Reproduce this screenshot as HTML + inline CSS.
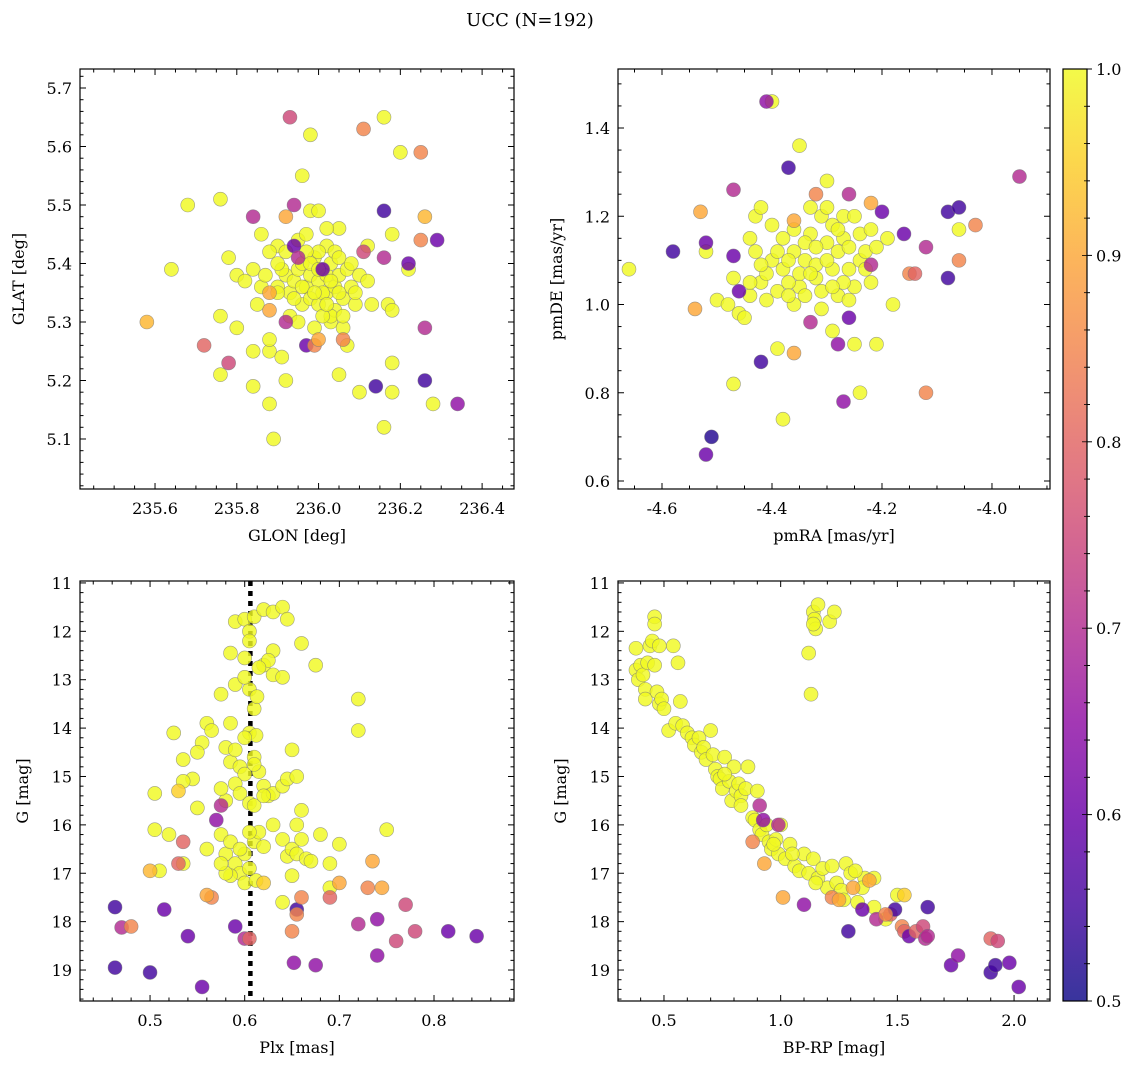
<!DOCTYPE html>
<html><head><meta charset="utf-8">
<style>
html,body{margin:0;padding:0;background:#fff;}
svg{display:block;font-family:"DejaVu Serif","Liberation Serif",serif;}
</style></head>
<body>
<svg id="fig" width="1136" height="1068" viewBox="0 0 1136 1068" xmlns="http://www.w3.org/2000/svg">
<text x="530" y="26" text-anchor="middle" font-size="18">UCC (N=192)</text>
</svg>
<script>
// ---- Panel 1: GLON / GLAT ----
const glonLow=[235.58,235.72,235.78,235.84,235.88,235.88,235.92,235.92,235.93,235.94,235.94,235.95,235.97,235.99,236.01,236.0,236.06,236.11,236.11,236.14,236.16,236.16,236.22,236.25,236.25,236.26,236.26,236.26,236.29,236.34];
const glatLow=[5.30,5.26,5.23,5.48,5.35,5.32,5.30,5.48,5.65,5.50,5.43,5.41,5.26,5.26,5.39,5.27,5.27,5.42,5.63,5.19,5.49,5.41,5.40,5.59,5.44,5.48,5.29,5.20,5.44,5.16];
const probLow1=[0.92,0.8,0.75,0.7,0.9,0.9,0.7,0.9,0.75,0.7,0.6,0.7,0.6,0.85,0.6,0.9,0.85,0.75,0.85,0.55,0.55,0.7,0.6,0.85,0.85,0.92,0.7,0.55,0.6,0.65];
const glonHigh=[235.64,235.68,235.76,235.76,235.76,235.78,235.80,235.80,235.82,235.84,235.84,235.84,235.86,235.86,235.88,235.88,235.88,235.89,235.90,235.90,235.91,235.92,235.96,235.98,235.98,236.0,236.02,236.02,236.03,236.05,236.05,236.06,236.07,236.08,236.09,236.10,236.12,236.13,236.16,236.16,236.17,236.18,236.18,236.18,236.18,236.20,236.22,236.28,
235.92,235.93,235.94,235.95,235.96,235.96,235.97,235.98,235.98,235.99,236.0,236.0,236.01,236.02,236.03,236.04,236.04,236.05,236.06,236.07,235.95,235.97,236.0,236.02,235.93,235.95,236.03,236.06,235.91,235.90,236.08,236.10,235.97,235.99,236.01,236.04,235.88,235.87,236.09,236.05,235.96,235.98,236.0,235.94,236.02,235.92,236.05,235.99,236.03,235.9,236.12,235.85];
const glatHigh=[5.39,5.50,5.51,5.31,5.21,5.41,5.29,5.38,5.37,5.39,5.25,5.19,5.36,5.45,5.16,5.25,5.27,5.10,5.36,5.43,5.24,5.20,5.55,5.62,5.49,5.49,5.43,5.35,5.30,5.21,5.46,5.29,5.26,5.36,5.33,5.18,5.43,5.33,5.12,5.65,5.33,5.45,5.23,5.32,5.18,5.59,5.39,5.16,
5.38,5.35,5.37,5.39,5.33,5.40,5.36,5.38,5.34,5.41,5.37,5.33,5.35,5.38,5.40,5.36,5.32,5.38,5.34,5.39,5.44,5.45,5.42,5.46,5.31,5.30,5.31,5.31,5.39,5.40,5.40,5.38,5.42,5.29,5.31,5.42,5.42,5.38,5.35,5.35,5.36,5.40,5.39,5.34,5.33,5.42,5.41,5.35,5.37,5.35,5.37,5.33];

// ---- Panel 2: pmRA / pmDE ----
const pmraLow=[-4.58,-4.54,-4.53,-4.52,-4.51,-4.52,-4.47,-4.47,-4.46,-4.42,-4.41,-4.37,-4.36,-4.36,-4.33,-4.32,-4.28,-4.27,-4.26,-4.26,-4.22,-4.22,-4.20,-4.16,-4.15,-4.14,-4.12,-4.12,-4.08,-4.08,-4.06,-4.06,-4.03,-3.95];
const pmdeLow=[1.12,0.99,1.21,1.14,0.70,0.66,1.26,1.11,1.03,0.87,1.46,1.31,0.89,1.19,0.96,1.25,0.91,0.78,1.25,0.97,1.23,1.09,1.21,1.16,1.07,1.07,1.13,0.80,1.21,1.06,1.22,1.10,1.18,1.29];
const probLow2=[0.55,0.9,0.9,0.6,0.52,0.6,0.7,0.6,0.6,0.55,0.65,0.55,0.9,0.9,0.7,0.85,0.65,0.65,0.7,0.6,0.9,0.7,0.6,0.6,0.85,0.8,0.7,0.85,0.55,0.55,0.55,0.85,0.85,0.7];
const pmraHigh=[-4.66,-4.52,-4.50,-4.48,-4.47,-4.47,-4.46,-4.45,-4.44,-4.44,-4.43,-4.42,-4.42,-4.40,-4.39,-4.38,-4.35,-4.30,-4.29,-4.25,-4.24,-4.21,-4.19,-4.18,-4.06,
-4.40,-4.38,-4.36,-4.34,-4.32,-4.30,-4.28,-4.26,-4.24,-4.22,-4.35,-4.33,-4.31,-4.29,-4.27,-4.37,-4.39,-4.41,-4.43,-4.36,-4.34,-4.31,-4.28,-4.25,-4.23,-4.21,-4.27,-4.30,-4.33,-4.38,-4.40,-4.36,-4.32,-4.29,-4.26,-4.35,-4.39,-4.42,-4.44,-4.31,-4.27,-4.24,-4.22,-4.34,-4.30,-4.28,-4.37,-4.33,-4.25,-4.23,-4.29,-4.37,-4.32,-4.26,-4.41];
const pmdeHigh=[1.08,1.12,1.01,1.00,1.06,0.82,0.98,0.97,1.02,1.15,1.20,1.22,1.05,1.46,0.90,0.74,1.36,1.28,0.94,0.91,0.80,0.91,1.15,1.00,1.17,
1.10,1.08,1.12,1.10,1.06,1.14,1.12,1.08,1.10,1.05,1.04,1.16,1.20,1.18,1.15,1.05,1.03,1.07,1.12,1.00,1.02,1.03,1.02,1.04,1.12,1.13,1.20,1.22,1.22,1.15,1.18,1.17,1.09,1.08,1.13,1.07,1.12,1.09,1.05,0.99,1.05,1.16,1.17,1.14,1.10,1.17,1.10,1.07,1.20,1.08,1.04,1.02,1.13,1.01,1.01];

// ---- Panel 3: Plx / G ----
const plxLow=[0.463,0.463,0.47,0.48,0.50,0.515,0.53,0.535,0.54,0.555,0.565,0.57,0.575,0.59,0.60,0.605,0.62,0.65,0.652,0.655,0.655,0.66,0.675,0.69,0.70,0.72,0.73,0.735,0.74,0.74,0.745,0.76,0.77,0.78,0.815,0.845,0.50,0.53,0.56];
const gPlxLow=[17.7,18.95,18.12,18.1,19.05,17.75,16.8,16.35,18.3,19.35,17.5,15.9,15.6,18.1,18.35,18.35,17.2,18.2,18.85,17.75,17.85,17.5,18.9,17.5,17.2,18.05,17.3,16.75,17.95,18.7,17.3,18.4,17.65,18.2,18.2,18.3,16.95,15.3,17.45];
const probLow3=[0.55,0.55,0.7,0.85,0.55,0.6,0.8,0.8,0.6,0.6,0.85,0.65,0.7,0.6,0.7,0.8,0.95,0.85,0.65,0.55,0.85,0.85,0.65,0.8,0.9,0.7,0.85,0.9,0.65,0.65,0.9,0.75,0.75,0.75,0.6,0.6,0.92,0.95,0.9];
const plxHigh=[0.59,0.60,0.605,0.61,0.62,0.63,0.64,0.645,0.66,0.63,0.62,0.625,0.63,0.64,0.615,0.605,0.585,0.60,0.575,0.59,0.605,0.61,0.613,0.675,0.72,0.60,
0.56,0.565,0.555,0.55,0.545,0.525,0.535,0.585,0.58,0.585,0.59,0.595,0.60,0.605,0.61,0.612,0.615,0.62,0.625,0.63,0.64,0.645,0.65,0.655,0.59,0.595,0.58,0.605,0.61,0.62,0.575,0.61,0.72,0.505,0.535,0.60,
0.55,0.56,0.575,0.58,0.585,0.59,0.595,0.6,0.605,0.61,0.615,0.62,0.63,0.64,0.645,0.65,0.655,0.66,0.665,0.67,0.68,0.69,0.70,0.75,0.505,0.52,0.585,0.60,0.64,0.65,0.69,0.655,0.595,0.58,0.612,0.605,0.575,0.66,0.51,0.535];
const gPlxHigh=[11.8,11.75,12.0,11.7,11.55,11.6,11.5,11.75,12.25,12.4,12.7,12.6,12.9,12.95,12.75,12.2,12.45,12.55,13.3,13.1,13.2,13.6,13.35,12.7,13.4,12.95,
13.9,14.05,14.3,14.5,15.05,14.1,14.65,13.9,14.4,14.7,14.45,14.8,14.95,14.1,14.6,14.15,14.9,15.2,15.4,15.35,15.2,15.05,14.45,15.0,15.15,15.35,15.5,15.55,15.6,15.4,15.25,14.75,14.05,15.35,15.1,14.2,
15.65,16.5,16.2,16.6,16.35,16.8,17.0,16.6,16.9,16.35,16.15,16.45,16.0,16.3,16.65,16.5,16.6,16.3,16.7,16.75,16.2,16.8,16.4,16.1,16.1,16.2,17.05,17.2,17.6,17.05,17.3,16.0,16.5,17.0,17.15,16.15,16.8,15.7,16.95,16.8];

// ---- Panel 4: BP-RP / G ----
const bprpLow=[0.91,0.925,0.93,0.88,0.99,1.01,1.10,1.22,1.25,1.29,1.31,1.35,1.38,1.41,1.47,1.49,1.52,1.53,1.55,1.58,1.61,1.62,1.63,1.63,1.73,1.76,1.90,1.93,1.90,1.92,1.98,2.02,1.45,1.53];
const gCmdLow=[15.6,15.9,16.8,16.35,16.0,17.5,17.65,17.5,17.55,18.2,17.3,17.75,17.15,17.95,17.85,17.75,18.1,18.2,18.3,18.2,18.1,18.35,17.7,18.3,18.9,18.7,18.35,18.4,19.05,18.9,18.85,19.35,17.85,17.45];
const probLow4=[0.7,0.65,0.9,0.85,0.7,0.9,0.65,0.85,0.9,0.55,0.9,0.6,0.9,0.7,0.8,0.55,0.85,0.8,0.6,0.8,0.75,0.7,0.55,0.7,0.6,0.65,0.8,0.75,0.55,0.55,0.6,0.6,0.85,0.95];
const bprpHigh=[0.38,0.38,0.39,0.40,0.41,0.42,0.42,0.43,0.44,0.45,0.46,0.46,0.46,0.47,0.48,0.48,0.49,0.50,0.52,0.54,0.55,0.56,0.57,0.58,0.60,0.62,0.63,0.65,0.66,0.67,0.68,0.70,0.71,0.72,0.73,0.74,0.75,0.76,0.78,0.79,0.80,0.81,0.82,0.83,0.85,0.86,0.88,0.89,0.90,0.91,0.92,0.94,0.95,0.96,0.98,0.99,1.00,1.02,1.04,1.06,1.08,1.10,1.12,1.14,1.16,1.18,1.20,1.22,1.24,1.26,1.28,1.30,1.33,1.36,1.40,1.45,1.50,
1.12,1.14,1.145,1.15,1.16,1.14,1.21,1.23,1.13,1.40,1.32,0.76,0.83,0.97,1.05,1.15,1.27,1.35];
const gCmdHigh=[12.35,12.8,13.0,12.7,12.9,13.2,13.4,12.65,12.3,12.2,11.7,11.85,12.7,13.25,12.3,13.5,13.4,13.6,14.05,12.3,13.9,12.65,13.45,13.95,14.1,14.2,14.35,14.2,14.5,14.4,14.65,14.05,14.55,14.85,15.0,15.05,15.25,14.6,15.1,15.5,14.8,15.3,15.15,15.4,15.25,14.8,15.85,15.9,15.3,16.1,16.2,16.0,16.35,16.5,16.3,16.6,16.0,16.7,16.4,16.85,16.95,16.6,17.0,16.7,17.1,16.9,17.3,16.85,17.2,17.35,16.8,17.0,17.6,17.1,17.7,17.95,17.45,
12.45,11.6,11.75,11.95,11.45,11.85,11.8,11.6,13.3,17.1,16.95,14.95,15.6,16.4,16.6,17.2,17.55,17.3];

const plxLine=0.606;
const cbTicks=[0.5,0.6,0.7,0.8,0.9,1.0];

const NS='http://www.w3.org/2000/svg';
const svg=document.getElementById('fig');
function mk(tag,attrs,parent){const e=document.createElementNS(NS,tag);for(const k in attrs)e.setAttribute(k,attrs[k]);(parent||svg).appendChild(e);return e;}

const stops=['#0d0887','#41049d','#6a00a8','#8f0da4','#b12a90','#cc4778','#e16462','#f2844b','#fca636','#fcce25','#f0f921'];
function hex(h){return [1,3,5].map(i=>parseInt(h.substr(i,2),16));}
function cmap(p){let t=(p-0.5)/0.5;t=Math.max(0,Math.min(1,t));const f=t*10,i=Math.min(9,Math.floor(f)),r=f-i;const a=hex(stops[i]),b=hex(stops[i+1]);return 'rgb('+a.map((v,j)=>Math.round(v+(b[j]-v)*r)).join(',')+')';}

function panel(o){
  const g=mk('g',{});
  
  
  const sx=v=>o.x0+(v-o.xmin)/(o.xmax-o.xmin)*(o.x1-o.x0);
  const sy=v=>o.yinv? o.y0+(v-o.ymin)/(o.ymax-o.ymin)*(o.y1-o.y0) : o.y1-(v-o.ymin)/(o.ymax-o.ymin)*(o.y1-o.y0);
  const cp='cp'+o.name;
  const defs=mk('defs',{},g);const c=mk('clipPath',{id:cp},defs);mk('rect',{x:o.x0,y:o.y0,width:o.x1-o.x0,height:o.y1-o.y0},c);
  const pts=mk('g',{'clip-path':'url(#'+cp+')'},g);
  
  
  if(o.vline!==undefined){
    const l=mk('line',{x1:sx(o.vline),x2:sx(o.vline),y1:o.y0,y2:o.y1,stroke:'#000','stroke-width':4.5,'stroke-dasharray':'5 5'},pts);
    
    
  }
  const draw=(xs,ys,ps)=>{for(let i=0;i<xs.length;i++){const p=ps?ps[i]:1;
    const e=mk('circle',{cx:sx(xs[i]),cy:sy(ys[i]),r:7,fill:cmap(p),'fill-opacity':0.82,stroke:'#777','stroke-opacity':0.7,'stroke-width':0.6},pts);
    
    }};
  draw(o.xh,o.yh,null);draw(o.xl,o.yl,o.pl);
  mk('rect',{x:o.x0,y:o.y0,width:o.x1-o.x0,height:o.y1-o.y0,fill:'none',stroke:'#000','stroke-width':1.2},g);
  const eps=1e-9;
  for(let v=Math.ceil(o.xmin/o.xmn-eps)*o.xmn;v<=o.xmax+eps;v+=o.xmn){
    const isMaj=Math.abs(v/o.xmj-Math.round(v/o.xmj))<1e-6;const L=isMaj?6:3.5;const x=sx(v);
    mk('line',{x1:x,x2:x,y1:o.y1,y2:o.y1-L,stroke:'#000','stroke-width':1},g);
    mk('line',{x1:x,x2:x,y1:o.y0,y2:o.y0+L,stroke:'#000','stroke-width':1},g);
    if(isMaj){const t=mk('text',{x:x,y:o.y1+25,'text-anchor':'middle','font-size':16},g);t.textContent=(Math.round(v/o.xmj)*o.xmj).toFixed(o.xdp);
      }
  }
  for(let v=Math.ceil(o.ymin/o.ymn-eps)*o.ymn;v<=o.ymax+eps;v+=o.ymn){
    const isMaj=Math.abs(v/o.ymj-Math.round(v/o.ymj))<1e-6;const L=isMaj?6:3.5;const y=sy(v);
    mk('line',{x1:o.x0,x2:o.x0+L,y1:y,y2:y,stroke:'#000','stroke-width':1},g);
    mk('line',{x1:o.x1,x2:o.x1-L,y1:y,y2:y,stroke:'#000','stroke-width':1},g);
    if(isMaj){const t=mk('text',{x:o.x0-8,y:y+6,'text-anchor':'end','font-size':16},g);t.textContent=(Math.round(v/o.ymj)*o.ymj).toFixed(o.ydp);
      }
  }
  const xl=mk('text',{x:(o.x0+o.x1)/2,y:o.y1+52,'text-anchor':'middle','font-size':16},g);xl.textContent=o.xlab;
  
  const yx=o.ylx,yy=(o.y0+o.y1)/2;
  const yl=mk('text',{x:yx,y:yy,'text-anchor':'middle','font-size':16,transform:'rotate(-90 '+yx+' '+yy+')'},g);yl.textContent=o.ylab;
  
}

panel({name:'glon-glat-panel',x0:80,x1:514,y0:69,y1:489,xmin:235.4165,xmax:236.478,ymin:5.0145,ymax:5.7325,xmj:0.2,xmn:0.05,ymj:0.1,ymn:0.02,xdp:1,ydp:1,xh:glonHigh,yh:glatHigh,xl:glonLow,yl:glatLow,pl:probLow1,xlab:'GLON [deg]',ylab:'GLAT [deg]',ylx:24});
panel({name:'pm-panel',x0:618,x1:1050,y0:69,y1:489,xmin:-4.68,xmax:-3.8945,ymin:0.5819,ymax:1.5337,xmj:0.2,xmn:0.05,ymj:0.2,ymn:0.05,xdp:1,ydp:1,xh:pmraHigh,yh:pmdeHigh,xl:pmraLow,yl:pmdeLow,pl:probLow2,xlab:'pmRA [mas/yr]',ylab:'pmDE [mas/yr]',ylx:562});
panel({name:'plx-g-panel',x0:80,x1:514,y0:581,y1:1001,xmin:0.426,xmax:0.8845,ymin:10.96,ymax:19.64,yinv:true,xmj:0.1,xmn:0.02,ymj:1,ymn:0.2,xdp:1,ydp:0,xh:plxHigh,yh:gPlxHigh,xl:plxLow,yl:gPlxLow,pl:probLow3,xlab:'Plx [mas]',ylab:'G [mag]',ylx:28,vline:plxLine});
panel({name:'cmd-panel',x0:618,x1:1050,y0:581,y1:1001,xmin:0.303,xmax:2.154,ymin:10.96,ymax:19.64,yinv:true,xmj:0.5,xmn:0.1,ymj:1,ymn:0.2,xdp:1,ydp:0,xh:bprpHigh,yh:gCmdHigh,xl:bprpLow,yl:gCmdLow,pl:probLow4,xlab:'BP-RP [mag]',ylab:'G [mag]',ylx:566});

(function(){
  const x0=1063,x1=1087,y0=69,y1=1001;
  const g=mk('g',{});
  
  
  const defs=mk('defs',{},g);
  const lg=mk('linearGradient',{id:'cbg',x1:0,y1:1,x2:0,y2:0},defs);
  for(let i=0;i<=20;i++){const p=0.5+i*0.025;mk('stop',{offset:(i/20),'stop-color':cmap(p),'stop-opacity':0.82},lg);}
  mk('rect',{x:x0,y:y0,width:x1-x0,height:y1-y0,fill:'url(#cbg)'},g);
  mk('rect',{x:x0,y:y0,width:x1-x0,height:y1-y0,fill:'none',stroke:'#000','stroke-width':1.2},g);
  const sy=v=>y1-(v-0.5)/0.5*(y1-y0);
  for(let k=0;k<=25;k++){const v=0.5+k*0.02;const y=sy(v);const maj=(k%5===0);
    mk('line',{x1:x1,x2:x1+(maj?5:3),y1:y,y2:y,stroke:'#000','stroke-width':1},g);
    mk('line',{x1:x1,x2:x1-(maj?5:3),y1:y,y2:y,stroke:'#000','stroke-width':0.8},g);}
  cbTicks.forEach(v=>{const t=mk('text',{x:x1+9,y:sy(v)+6,'font-size':16},g);t.textContent=v.toFixed(1);
    
    });
})();
</script>
</body></html>
